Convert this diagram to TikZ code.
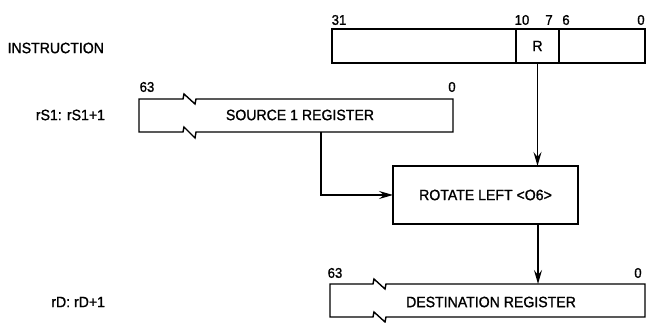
\documentclass[tikz,border=0pt]{standalone}
\usepackage{fontspec}
\setmainfont[FakeStretch=0.94,FakeBold=1.2]{Liberation Sans}
\usetikzlibrary{arrows.meta}
\begin{document}
\begin{tikzpicture}[x=1pt,y=1pt,
  every node/.style={inner sep=0pt,outer sep=0pt,font=\fontsize{15}{18}\selectfont},
  num/.style={font=\fontsize{14}{16}\selectfont},
  lbl/.style={anchor=east},
  box/.style={draw,line width=1.4pt},
  arr/.style={line width=1.4pt,-{Stealth[length=14pt,width=8pt,inset=5pt]}},
  ln/.style={line width=1.4pt}]
\useasboundingbox (0,0) rectangle (647,323);
% left labels
\node[lbl] (linstr) at (104,275) {INSTRUCTION};
\node[lbl] (lsrc) at (105,208) {rS1: rS1+1};
\node[lbl] (ldst) at (105,21) {rD: rD+1};
% instruction word
\draw[box] (332,260) rectangle (645,294);
\node[box,minimum width=43pt,minimum height=34pt] (R) at (537.5,277) {R};
\node[num] (b31) at (339,303) {31};
\node[num] (b10) at (522,303) {10};
\node[num] (b7) at (549,303) {7};
\node[num] (b6) at (566,303) {6};
\node[num] (b0) at (641,303) {0};
% source register
\draw[ln,line join=miter] (183,224) -- (139,224) -- (139,191) -- (183,191) -- (184,196) -- (195,185) -- (196,191) -- (453,191) -- (453,224) -- (196,224) -- (195,219) -- (184,229) -- cycle;
\node (src) at (300,208) {SOURCE 1 REGISTER};
\node[num] (s63) at (147,236) {63};
\node[num] (s0) at (452,236) {0};
% rotate box
\node[box,minimum width=185pt,minimum height=58pt] (rot) at (485.5,128) {ROTATE LEFT <O6>};
% destination register
\draw[ln,line join=miter] (373,39) -- (330,39) -- (330,6) -- (373,6) -- (374,11) -- (385,1) -- (386,6) -- (645,6) -- (645,39) -- (386,39) -- (385,34) -- (374,44) -- cycle;
\node (dst) at (491,21) {DESTINATION REGISTER};
\node[num] (d63) at (335,50) {63};
\node[num] (d0) at (638,50) {0};
% connectors
\coordinate (s1) at (321,191);
\coordinate (dtop) at (538,39);
\draw[arr] (R.south) -- (R.south |- rot.north);
\draw[arr] (s1) |- (rot.west);
\draw[arr] (rot.south -| dtop) -- (dtop);
\end{tikzpicture}
\end{document}
